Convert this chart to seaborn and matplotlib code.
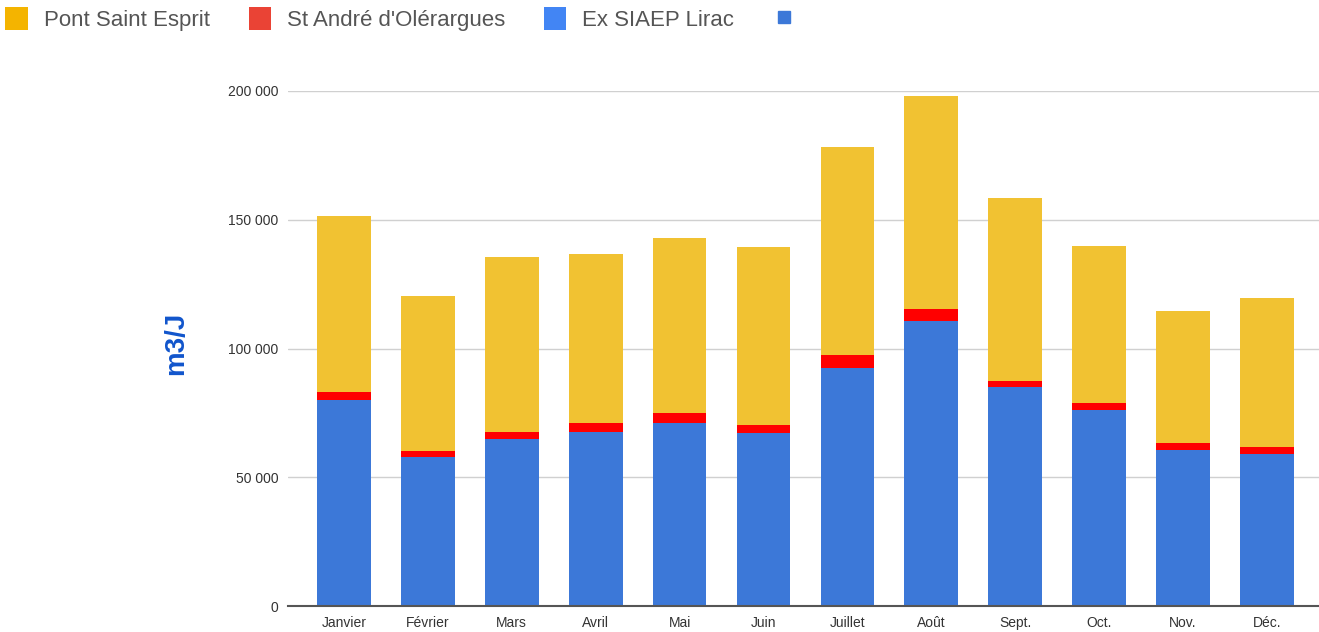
import pandas as pd
import numpy as np
import matplotlib
matplotlib.use("Agg")
import matplotlib.pyplot as plt
import seaborn as sns
from matplotlib.patches import Patch
from matplotlib.lines import Line2D
from matplotlib.ticker import FuncFormatter

# --- data (m3 per day) ---
months = ['Janvier', 'Février', 'Mars', 'Avril', 'Mai', 'Juin',
          'Juillet', 'Août', 'Sept.', 'Oct.', 'Nov.', 'Déc.']
ex_siaep_lirac = [80000, 58000, 65000, 67400, 71000, 67000,
                  92500, 110800, 85000, 76000, 60600, 58900]
st_andre = [3000, 2200, 2700, 3500, 3800, 3400,
            4900, 4400, 2500, 3000, 2700, 3000]
pont_saint_esprit = [68500, 60000, 67800, 65800, 68200, 69100,
                     80900, 82800, 70800, 61000, 51400, 57800]

df = pd.DataFrame({'mois': months, 'lirac': ex_siaep_lirac,
                   'andre': st_andre, 'pse': pont_saint_esprit})
df['cum_andre'] = df['lirac'] + df['andre']
df['cum_total'] = df['cum_andre'] + df['pse']

c_yellow = '#F1C232'
c_red = '#FF0000'
c_blue = '#3C78D8'

sns.set_style("white")
plt.rcParams['font.family'] = ['Liberation Sans', 'DejaVu Sans']

fig = plt.figure(figsize=(13.19, 6.32), dpi=100)
ax = fig.add_axes([288 / 1319, 1 - 606 / 632, 1031 / 1319, 515 / 632])

# stacked bars: draw totals first, then overlay lower parts
sns.barplot(data=df, x='mois', y='cum_total', color=c_yellow, width=0.64,
            saturation=1, linewidth=0, ax=ax, zorder=2)
sns.barplot(data=df, x='mois', y='cum_andre', color=c_red, width=0.64,
            saturation=1, linewidth=0, ax=ax, zorder=3)
sns.barplot(data=df, x='mois', y='lirac', color=c_blue, width=0.64,
            saturation=1, linewidth=0, ax=ax, zorder=4)

ax.set_ylim(0, 200000)
ax.set_xlim(-0.667, 11.62)
ax.set_yticks([0, 50000, 100000, 150000, 200000])
ax.yaxis.set_major_formatter(FuncFormatter(lambda v, p: f"{int(v):,}".replace(',', ' ')))
ax.grid(axis='y', color='#D0D0D0', linewidth=1, zorder=0)
ax.set_axisbelow(True)
for s in ['top', 'right', 'left']:
    ax.spines[s].set_visible(False)
ax.spines['bottom'].set_color('#555555')
ax.spines['bottom'].set_linewidth(1.5)
ax.spines['bottom'].set_zorder(5)
ax.tick_params(axis='both', length=0, labelsize=10, colors='#333333', pad=7)
ax.set_xlabel('')
ax.set_ylabel('m3/J', color='#1155CC', fontsize=20, fontweight='bold')
ax.yaxis.set_label_coords(-0.096, 0.51)

handles = [
    Patch(facecolor='#F4B400', edgecolor='none', label='Pont Saint Esprit'),
    Patch(facecolor='#EA4335', edgecolor='none', label="St André d'Olérargues"),
    Patch(facecolor='#4285F4', edgecolor='none', label='Ex SIAEP Lirac'),
    Line2D([], [], marker='s', color='#3C78D8', linestyle='', markersize=8, label=''),
]
fig.legend(handles=handles, loc='upper left', bbox_to_anchor=(-0.011, 1.02), ncol=4,
           frameon=False, fontsize=16, handlelength=1.0, handleheight=1.2,
           handletextpad=0.72, columnspacing=1.75, labelcolor='#555555')

plt.savefig('out.png', dpi=100)
plt.close()
